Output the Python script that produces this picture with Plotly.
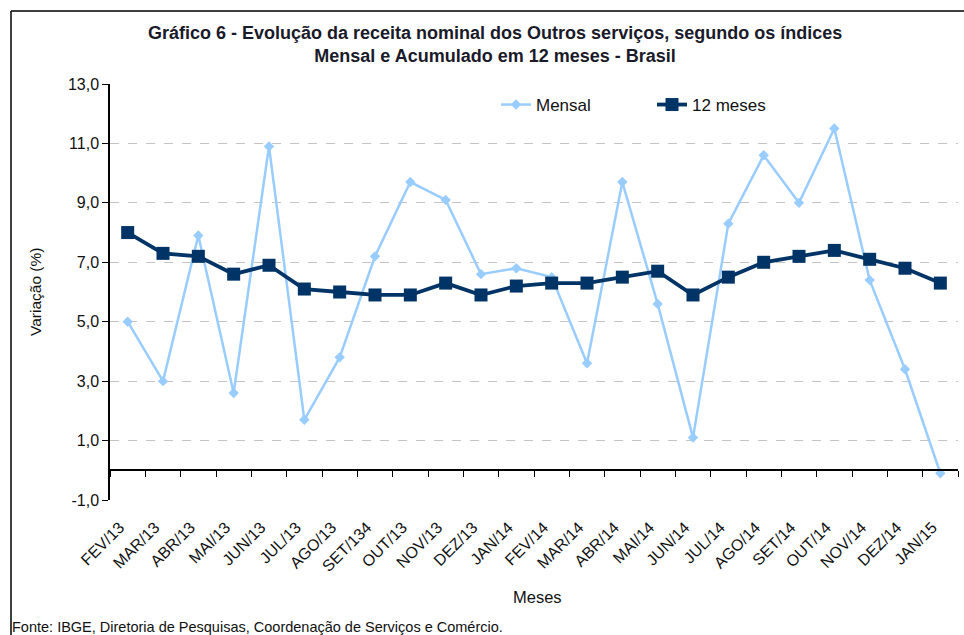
import plotly.graph_objects as go

meses = ["FEV/13", "MAR/13", "ABR/13", "MAI/13", "JUN/13", "JUL/13", "AGO/13", "SET/134",
         "OUT/13", "NOV/13", "DEZ/13", "JAN/14", "FEV/14", "MAR/14", "ABR/14", "MAI/14",
         "JUN/14", "JUL/14", "AGO/14", "SET/14", "OUT/14", "NOV/14", "DEZ/14", "JAN/15"]

mensal = [5.0, 3.0, 7.9, 2.6, 10.9, 1.7, 3.8, 7.2, 9.7, 9.1, 6.6, 6.8,
          6.5, 3.6, 9.7, 5.6, 1.1, 8.3, 10.6, 9.0, 11.5, 6.4, 3.4, -0.1]

doze_meses = [8.0, 7.3, 7.2, 6.6, 6.9, 6.1, 6.0, 5.9, 5.9, 6.3, 5.9, 6.2,
              6.3, 6.3, 6.5, 6.7, 5.9, 6.5, 7.0, 7.2, 7.4, 7.1, 6.8, 6.3]

y_ticks = [-1, 1, 3, 5, 7, 9, 11, 13]
y_tick_labels = [f"{v:.1f}".replace(".", ",") for v in y_ticks]

FONT = "Liberation Sans, Arial, sans-serif"
W, H = 964, 635
ML, MR, MT, MB = 110, 6, 84, 135
PW = W - ML - MR
PH = H - MT - MB

fig = go.Figure()

fig.add_trace(go.Scatter(
    x=meses, y=mensal, name="Mensal", mode="lines+markers",
    line=dict(color="#99CCFF", width=2.5),
    marker=dict(symbol="diamond", size=8, color="#99CCFF"),
    legend="legend",
))
fig.add_trace(go.Scatter(
    x=meses, y=doze_meses, name="12 meses", mode="lines+markers",
    line=dict(color="#003366", width=3.8),
    marker=dict(symbol="square", size=13, color="#003366"),
    legend="legend2",
))
# invisible trace to carry the zero-line category axis (ticks between months)
fig.add_trace(go.Scatter(
    x=meses, y=[None] * len(meses), xaxis="x2", showlegend=False,
    hoverinfo="skip", mode="lines",
))

ymin, ymax = min(y_ticks), max(y_ticks)

fig.update_layout(
    width=W, height=H,
    margin=dict(l=ML, r=MR, t=MT, b=MB),
    paper_bgcolor="white", plot_bgcolor="white",
    font=dict(family=FONT, color="#111111", size=15),
    xaxis=dict(
        type="category", categoryorder="array", categoryarray=meses,
        range=[-0.5, len(meses) - 0.5],
        showgrid=False, zeroline=False, showline=False, ticks="",
        tickangle=-45, tickfont=dict(size=16, family=FONT, color="#111111"),
        ticklabelstandoff=14, ticklabelshift=-8,
        automargin=False,
    ),
    xaxis2=dict(
        type="category", categoryorder="array", categoryarray=meses,
        range=[-0.5, len(meses) - 0.5], overlaying="x", anchor="free",
        position=(0 - ymin) / (ymax - ymin),
        showgrid=False, zeroline=False, showline=True, linecolor="black", linewidth=1.5,
        ticks="outside", ticklen=6, tickcolor="black", tickwidth=1.2,
        tickson="boundaries", showticklabels=False,
    ),
    yaxis=dict(
        range=[ymin, ymax], tickvals=y_ticks, ticktext=y_tick_labels,
        showgrid=True, gridcolor="#C4C4C4", griddash="dash", gridwidth=1,
        zeroline=False, showline=True, linecolor="black", linewidth=1.5,
        ticks="outside", ticklen=6, tickcolor="black",
        tickfont=dict(size=16, family=FONT, color="#111111"),
        automargin=False,
    ),
    showlegend=True,
    legend=dict(x=(496 - ML) / PW, y=1 - (87 - MT) / PH, xanchor="left", yanchor="top",
                bgcolor="rgba(0,0,0,0)", font=dict(size=17, family=FONT, color="#111111")),
    legend2=dict(x=(652 - ML) / PW, y=1 - (87 - MT) / PH, xanchor="left", yanchor="top",
                 bgcolor="rgba(0,0,0,0)", font=dict(size=17, family=FONT, color="#111111")),
)

title = ("<b>Gráfico 6 - Evolução da receita nominal dos Outros serviços, segundo os índices<br>"
         "Mensal e Acumulado em 12 meses - Brasil</b>")
fig.add_annotation(text=title, xref="paper", yref="paper",
                   x=(495 - ML) / PW, y=1 + (MT - 21) / PH, xanchor="center", yanchor="top",
                   showarrow=False, font=dict(size=18, family=FONT, color="#1a1a2a"),
                   align="center")
fig.add_annotation(text="Variação (%)", xref="paper", yref="paper",
                   x=(35 - ML) / PW, y=1 - (292 - MT) / PH, textangle=-90,
                   xanchor="center", yanchor="middle", showarrow=False,
                   font=dict(size=15.5, family=FONT, color="#111111"))
fig.add_annotation(text="Meses", xref="paper", yref="paper",
                   x=(537 - ML) / PW, y=-(597 - MT - PH) / PH,
                   xanchor="center", yanchor="middle", showarrow=False,
                   font=dict(size=16.5, family=FONT, color="#111111"))
fig.add_annotation(text="Fonte: IBGE, Diretoria de Pesquisas, Coordenação de Serviços e Comércio.",
                   xref="paper", yref="paper",
                   x=(10 - ML) / PW, y=-(627 - MT - PH) / PH,
                   xanchor="left", yanchor="middle", showarrow=False,
                   font=dict(size=14.5, family=FONT, color="#111111"))

# outer frame (left and top edges visible in the reference)
fx = (11 - ML) / PW
fy = 1 + (MT - 11) / PH
fig.add_shape(type="line", xref="paper", yref="paper", x0=fx, x1=fx, y0=fy, y1=-(H - MT - PH) / PH - 0.01,
              line=dict(color="black", width=1.5))
fig.add_shape(type="line", xref="paper", yref="paper", x0=fx, x1=1 + (MR + 2) / PW, y0=fy, y1=fy,
              line=dict(color="black", width=1.5))

fig.write_html("out.html", config={"displayModeBar": False},
               post_script="document.body.style.margin='0';document.body.style.padding='0';")
